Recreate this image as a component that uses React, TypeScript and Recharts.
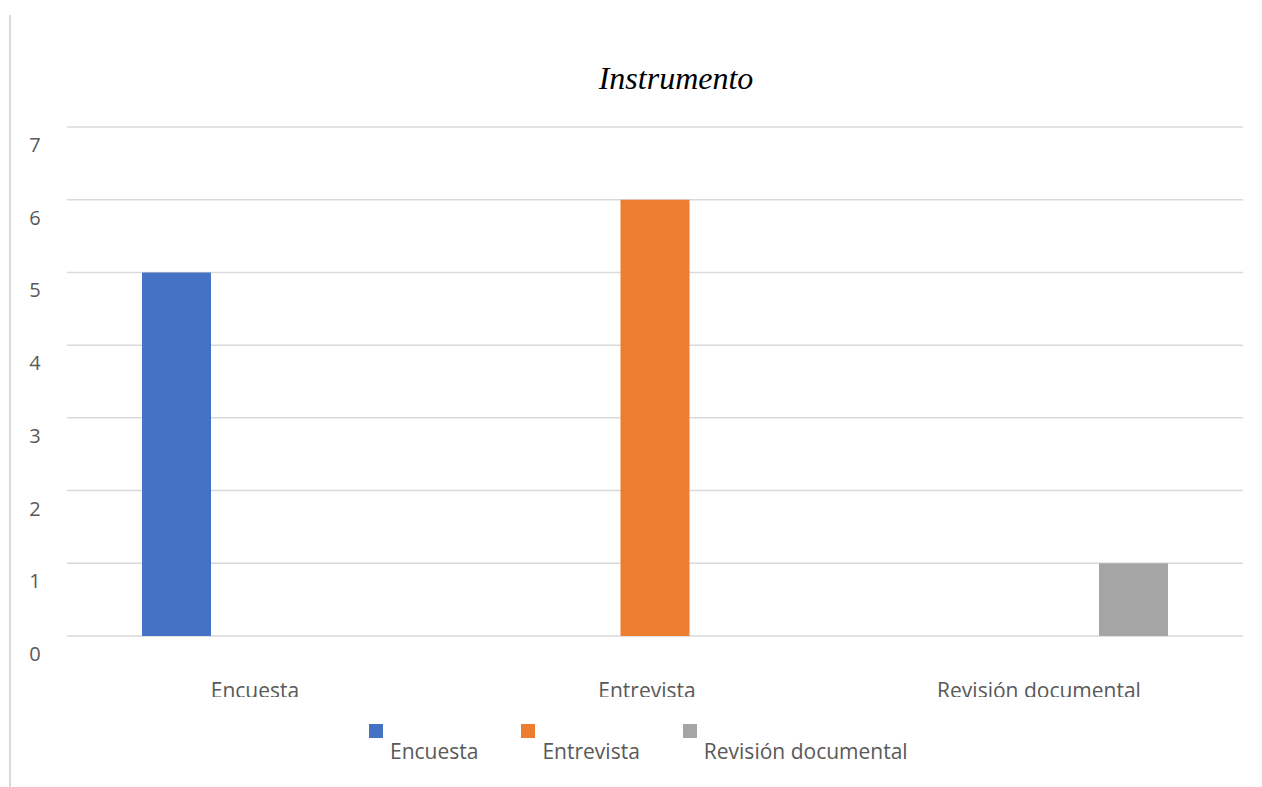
import React from 'react'
import { BarChart, Bar, XAxis, YAxis, CartesianGrid, Legend } from 'recharts'

const categories = ['Encuesta', 'Entrevista', 'Revisión documental']
const encuestaValues = [5, null, null]
const entrevistaValues = [null, 6, null]
const revisionValues = [null, null, 1]
const yTicks = [0, 1, 2, 3, 4, 5, 6, 7]

const series = [
  { key: 'Encuesta', values: encuestaValues, color: '#4472C4' },
  { key: 'Entrevista', values: entrevistaValues, color: '#ED7D31' },
  { key: 'Revisión documental', values: revisionValues, color: '#A5A5A5' },
]

const data = categories.map((name, i) => {
  const row: Record<string, any> = { name }
  series.forEach(s => {
    row[s.key] = s.values[i]
  })
  return row
})

const FONT = '"Open Sans", sans-serif'
const TEXT_COLOR = '#595959'

const YTick = ({ y, payload }: any) => (
  <text x={35} y={y + 25} textAnchor="middle" fill={TEXT_COLOR} fontSize={20} fontFamily={FONT}>
    {payload.value}
  </text>
)

// labels are cut off just under the baseline, like in the original
const XTick = ({ x, y, payload, index }: any) => (
  <g>
    <defs>
      <clipPath id={`xclip-${index}`}>
        <rect x={0} y={0} width={1262} height={697} />
      </clipPath>
    </defs>
    <text
      x={x - 8}
      y={y + 54}
      textAnchor="middle"
      fill={TEXT_COLOR}
      fontSize={21}
      fontFamily={FONT}
      clipPath={`url(#xclip-${index})`}
    >
      {payload.value}
    </text>
  </g>
)

const renderLegend = () => (
  <div style={{ display: 'flex', height: 50, fontFamily: FONT, fontSize: 21, color: TEXT_COLOR }}>
    {series.map(s => (
      <div key={s.key} style={{ display: 'flex', alignItems: 'flex-start', marginRight: 43 }}>
        <div style={{ width: 14, height: 14, background: s.color, marginTop: 9 }} />
        <span style={{ marginLeft: 7, marginTop: 24, lineHeight: '24px', whiteSpace: 'nowrap' }}>{s.key}</span>
      </div>
    ))}
  </div>
)

export default function App() {
  return (
    <div style={{ position: 'absolute', left: 0, top: 0, width: 1262, height: 787, background: '#fff', overflow: 'hidden' }}>
      <div style={{ position: 'absolute', left: 9, top: 15, width: 2, height: 772, background: '#d9d9d9' }} />
      <div
        style={{
          position: 'absolute',
          left: 0,
          top: 58,
          width: 1352,
          textAlign: 'center',
          fontFamily: '"Liberation Serif", serif',
          fontStyle: 'italic',
          fontSize: 32,
          lineHeight: '40px',
          color: '#000',
        }}
      >
        Instrumento
      </div>
      <BarChart
        width={1262}
        height={787}
        data={data}
        margin={{ top: 127, right: 19, left: 10, bottom: 41 }}
        barCategoryGap={75}
        barGap={17.5}
      >
        <CartesianGrid vertical={false} stroke="#d9d9d9" strokeWidth={1.5} />
        <XAxis dataKey="name" axisLine={false} tickLine={false} height={60} tick={<XTick />} interval={0} />
        <YAxis width={57} domain={[0, 7]} ticks={yTicks} axisLine={false} tickLine={false} tick={<YTick />} />
        <Legend content={renderLegend} wrapperStyle={{ top: 715, left: 369, width: 'auto' }} />
        {series.map(s => (
          <Bar key={s.key} dataKey={s.key} fill={s.color} isAnimationActive={false} />
        ))}
      </BarChart>
    </div>
  )
}
